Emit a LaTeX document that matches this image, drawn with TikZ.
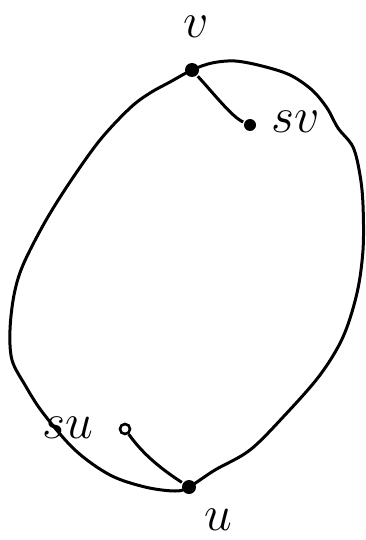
\documentclass[tikz,border=0pt]{standalone}
\usepackage{amsmath, amssymb}
\usetikzlibrary{arrows.meta}

\begin{document}
\begin{tikzpicture}
    [x=0.5pt, y=-0.5pt,
    line width=1.5pt,
    vertex/.style={inner sep=0pt, circle, fill=black, minimum size=7pt},
    hollow/.style={inner sep=0pt, circle, draw=black, fill=white, line width=1.3pt, minimum size=5pt},
    lbl/.style={inner sep=1pt, font=\fontsize{23}{26}\selectfont}]
        \useasboundingbox (0,0) rectangle (365,540);
        %% cycle through v and u
        \coordinate (v) at (192,70);
        \coordinate (u) at (189,487);
        \draw[line join=round] plot[smooth cycle, tension=0.55] coordinates {
            (v) (212,63) (235,61) (262,66) (290,75) (312,90) (327,108) (338,128)
            (353,147) (360,175) (363,205) (363,250) (357,293) (343,337) (320,375)
            (285,415) (250,450) (215,470) (u) (175,491) (145,487) (110,475)
            (75,450) (43,413) (25,385) (12,360) (10,330) (14,295) (23,265)
            (45,222) (70,182) (100,140) (130,108) (150,93) (170,82)};
        %% vertices
        \node[vertex] (V) at (v) {};
        \node[vertex, minimum size=6pt] (SV) at (250,125) {};
        \node[hollow] (SU) at (125,429) {};
        \node[vertex] (U) at (u) {};
        %% labels
        \node[lbl] (Vl) at (196,27) {$v$};
        \node[lbl] (SVl) at (296,122) {$sv$};
        \node[lbl] (SUl) at (68,428) {$su$};
        \node[lbl] (Ul) at (218,520) {$u$};

        \draw (V) .. controls (215,95) and (232,117) .. (SV);
        \draw (SU) .. controls (140,450) and (155,465) .. (U);
    \end{tikzpicture}
\end{document}
